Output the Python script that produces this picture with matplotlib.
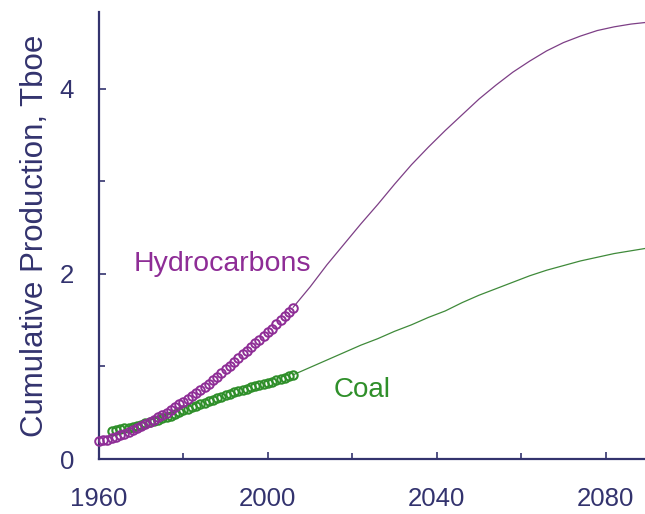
import matplotlib
matplotlib.use("Agg")
import matplotlib.pyplot as plt

# Historical cumulative production (Tboe), yearly
hydro_years = list(range(1960, 2007))
hydro_hist = [0.19, 0.20, 0.21, 0.225, 0.24, 0.255, 0.27, 0.29, 0.31, 0.33,
              0.355, 0.38, 0.40, 0.425, 0.45, 0.475, 0.50, 0.53, 0.56, 0.59,
              0.62, 0.65, 0.68, 0.71, 0.745, 0.78, 0.815, 0.85, 0.89, 0.93,
              0.97, 1.01, 1.05, 1.09, 1.13, 1.17, 1.21, 1.25, 1.29, 1.33,
              1.37, 1.41, 1.455, 1.50, 1.545, 1.59, 1.635]

coal_years = list(range(1963, 2007))
coal_hist = [0.30, 0.31, 0.32, 0.33, 0.34, 0.35, 0.36, 0.37, 0.385, 0.40,
             0.41, 0.425, 0.44, 0.455, 0.47, 0.49, 0.51, 0.53, 0.545, 0.56,
             0.575, 0.59, 0.61, 0.625, 0.64, 0.655, 0.67, 0.69, 0.705, 0.72,
             0.735, 0.75, 0.76, 0.775, 0.79, 0.80, 0.81, 0.825, 0.835, 0.85,
             0.865, 0.88, 0.895, 0.91]

# Projected cumulative production (Tboe)
proj_years = list(range(2006, 2091, 4))
hydro_proj = [1.64, 1.86, 2.10, 2.32, 2.54, 2.75, 2.97, 3.18, 3.37, 3.55,
              3.72, 3.89, 4.04, 4.18, 4.30, 4.41, 4.50, 4.57, 4.63, 4.67,
              4.70, 4.72]
coal_proj = [0.91, 0.99, 1.07, 1.15, 1.23, 1.30, 1.38, 1.45, 1.53, 1.60,
             1.69, 1.77, 1.84, 1.91, 1.98, 2.04, 2.09, 2.14, 2.18, 2.22,
             2.25, 2.28]

x_ticks = [1960, 2000, 2040, 2080]
y_ticks = [0, 2, 4]

plt.rcParams['font.family'] = ['Liberation Sans', 'DejaVu Sans']

navy = '#33336e'
purple = '#8e2d96'
purple_line = '#7d3f86'
green = '#2f8f2a'
green_line = '#3f8a3a'

fig = plt.figure(figsize=(6.45, 5.14), dpi=100)
ax = fig.add_axes([0.1535, 0.107, 0.8465, 0.8696])

ax.plot(proj_years, hydro_proj, color=purple_line, lw=0.9, zorder=2)
ax.plot(proj_years, coal_proj, color=green_line, lw=0.9, zorder=2)
ax.plot(coal_years, coal_hist, ls='none', marker='o', ms=6.0, mfc='none',
        mec=green, mew=1.5, clip_on=False, zorder=3)
ax.plot(hydro_years, hydro_hist, ls='none', marker='o', ms=6.2, mfc='none',
        mec=purple, mew=1.4, clip_on=False, zorder=4)

ax.text(1989.1, 2.11, 'Hydrocarbons', color=purple, fontsize=20.5,
        ha='center', va='center')
ax.text(2022.3, 0.75, 'Coal', color=green, fontsize=20,
        ha='center', va='center')

ax.set_xlim(1960, 2089.3)
ax.set_ylim(0, 4.83)
ax.set_xticks(x_ticks)
ax.set_xticks([1980, 2020, 2060], minor=True)
ax.set_yticks(y_ticks)
ax.set_yticks([1, 3], minor=True)

for side in ('top', 'right'):
    ax.spines[side].set_visible(False)
for side in ('left', 'bottom'):
    ax.spines[side].set_color(navy)
    ax.spines[side].set_linewidth(1.6)

ax.tick_params(which='both', direction='in', color=navy, width=1.2,
               labelcolor=navy, labelsize=18.5)
ax.tick_params(which='major', length=5)
ax.tick_params(which='minor', length=4)
ax.tick_params(axis='x', pad=20)
ax.tick_params(axis='y', pad=18)

ax.set_ylabel('Cumulative Production, Tboe', color=navy, fontsize=22.5,
              labelpad=7)

fig.savefig('out.png', dpi=100)
